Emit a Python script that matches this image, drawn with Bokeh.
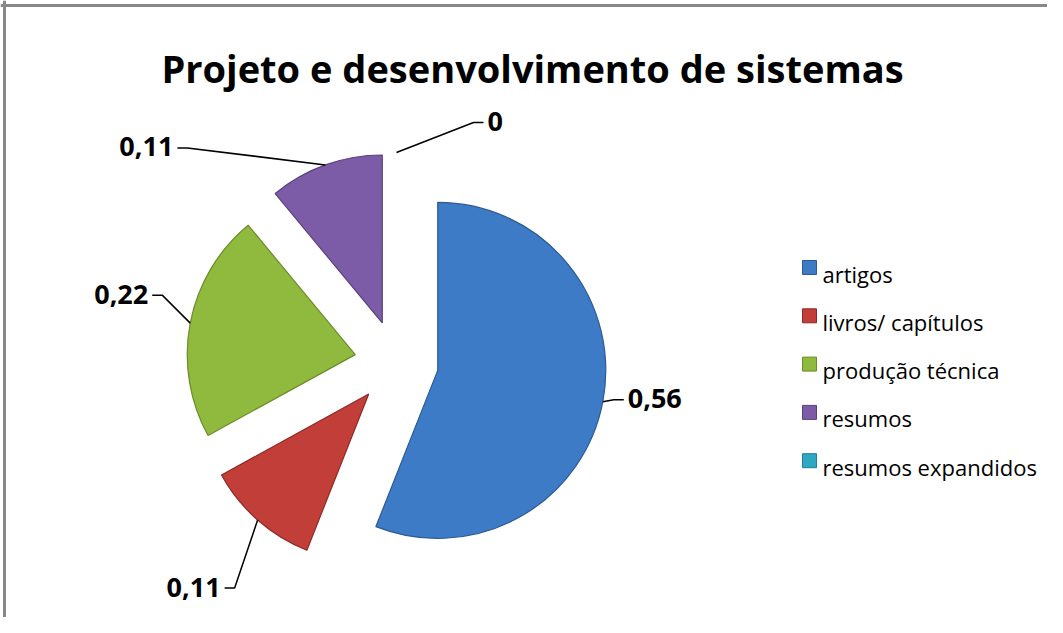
import math
from bokeh.plotting import figure
from bokeh.models import Range1d, Span
from bokeh.core.properties import value
from bokeh.embed import file_html
from bokeh.resources import INLINE

# ---- data ----
categories = ["artigos", "livros/ capítulos", "produção técnica", "resumos", "resumos expandidos"]
values = [0.56, 0.11, 0.22, 0.11, 0.0]
labels = ["0,56", "0,11", "0,22", "0,11", "0"]
title = "Projeto e desenvolvimento de sistemas"

# ---- styles / layout ----
colors = ["#3E7BC6", "#C23E38", "#8FBA3E", "#7D5CA7", "#2EA7C3"]
edge_colors = ["#2C5A92", "#8E2A26", "#6A8C2A", "#5A4080", "#1F7F96"]
W, H = 1047, 617
PAGE_H = 633
CX, CY = 396, PAGE_H - 362  # pie centre (data units = picture px, y up)
R = 168                     # radius
EXPLODE = 42                # explosion distance
# leader elbow offsets from slice edge (dx, dy) in picture px (y down), and label side
label_offsets = [(11, -2), (-23, 68), (-28, -28), (-138, -17), (77, -30)]
label_side = [1, -1, -1, -1, 1]
HSEG = 10
FONT = "Open Sans"

p = figure(width=W, height=H, output_backend="svg", toolbar_location=None,
           x_range=Range1d(0, W), y_range=Range1d(PAGE_H - H, PAGE_H),
           min_border=0)
p.axis.visible = False
p.grid.visible = False
p.outline_line_color = None
p.background_fill_color = "white"
p.border_fill_color = "white"

# border (top + left visible in reference)
p.add_layout(Span(location=PAGE_H - 5, dimension="width", line_color="#888888", line_width=3))
p.add_layout(Span(location=4, dimension="height", line_color="#888888", line_width=3))

total = sum(values)
cum = 0.0
for i, v in enumerate(values):
    a0 = cum / total * 2 * math.pi
    a1 = (cum + v) / total * 2 * math.pi
    cum += v
    am = (a0 + a1) / 2
    ux, uy = math.sin(am), math.cos(am)
    ax, ay = CX + EXPLODE * ux, CY + EXPLODE * uy
    if v > 0:
        p.wedge(x=[ax], y=[ay], radius=R, start_angle=math.pi / 2 - a1, end_angle=math.pi / 2 - a0,
                direction="anticlock", fill_color=colors[i], line_color=edge_colors[i], line_width=1.2)
    # leader line
    ex, ey = ax + R * ux, ay + R * uy
    dx, dy = label_offsets[i]
    bx, by = ex + dx, ey - dy
    side = label_side[i]
    hx = bx + side * HSEG
    p.line(x=[ex, bx, hx], y=[ey, by, by], line_color="black", line_width=1.5)
    p.text(x=[hx + side * 4], y=[by + 1], text=[labels[i]], text_font=value(FONT),
           text_font_style="bold", text_font_size="27px", text_color="black",
           text_align="left" if side > 0 else "right", text_baseline="alphabetic")

# title
p.text(x=[532], y=[PAGE_H - 67], text=[title], text_font=value(FONT), text_font_style="bold",
       text_font_size="38px", text_color="black", text_align="center", text_baseline="alphabetic")

# legend
LX, LY0, LSP = 809, 267, 48.3
for i, c in enumerate(categories):
    y = PAGE_H - (LY0 + i * LSP)
    p.scatter(x=[LX], y=[y], marker="square", size=14, fill_color=colors[i], line_color=edge_colors[i])
    p.text(x=[LX + 13], y=[y - 6], text=[c], text_font=value(FONT), text_font_size="22px",
           text_color="black", text_align="left", text_baseline="alphabetic")

open("out.html", "w").write(file_html(p, INLINE))
